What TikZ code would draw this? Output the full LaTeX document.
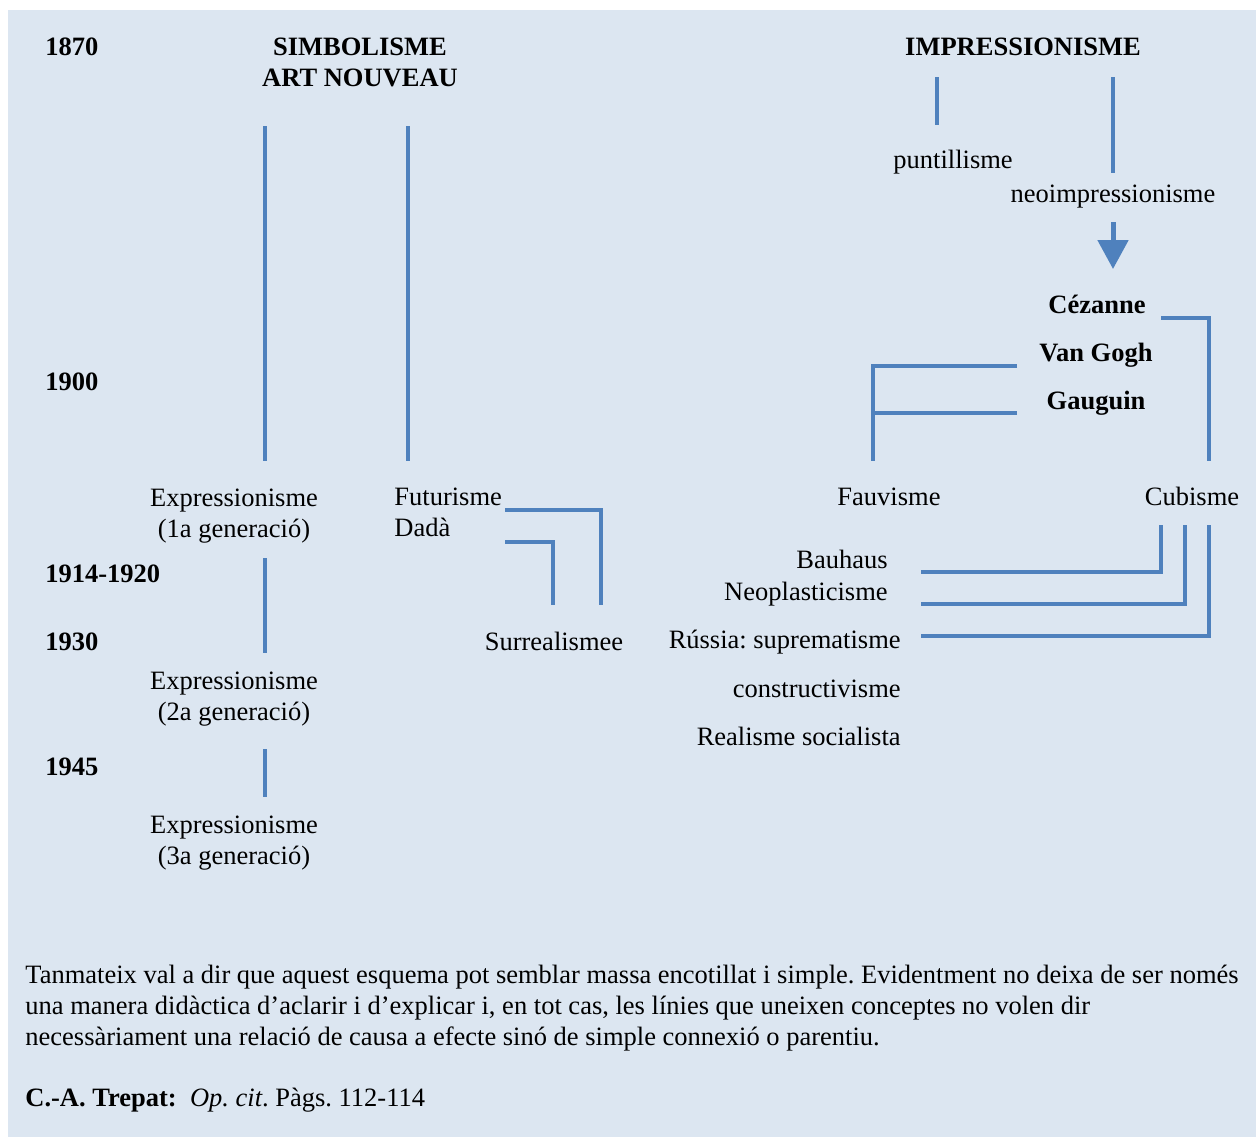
\documentclass[tikz,border=0pt]{standalone}
\usepackage{fontspec}
\setmainfont{Liberation Serif}
\usetikzlibrary{arrows.meta}
\definecolor{boxbg}{HTML}{DCE6F1}
\definecolor{linkblue}{HTML}{4F81BD}
\frenchspacing

\begin{document}
\begin{tikzpicture}[x=0.5pt,y=-0.5pt,
    txt/.style={inner sep=0pt,anchor=base,font=\fontsize{13.25}{15.5}\selectfont},
    yr/.style={txt,anchor=base west,font=\fontsize{13.25}{15.5}\selectfont\bfseries},
    head/.style={txt,font=\fontsize{13.25}{15.5}\selectfont\bfseries},
    link/.style={draw=linkblue,line width=2pt}]
  \useasboundingbox (0,0) rectangle (1256,1137);
  \fill[boxbg] (8,10) rectangle (1256,1137);

  % years
  \node[yr] (y1870) at (45,55) {1870};
  \node[yr] (y1900) at (45,390) {1900};
  \node[yr] (y1914) at (45,582) {1914-1920};
  \node[yr] (y1930) at (45,650) {1930};
  \node[yr] (y1945) at (45,775) {1945};

  % headings
  \node[head] (simb) at (360,55) {SIMBOLISME};
  \node[head] (artn) at (360,86) {ART NOUVEAU};
  \node[head] (impr) at (1023,55) {IMPRESSIONISME};

  % left column
  \node[txt] (exp1) at (234,506) {Expressionisme};
  \node[txt] (gen1) at (234,537) {(1a generació)};
  \node[txt] (exp2) at (234,689) {Expressionisme};
  \node[txt] (gen2) at (234,720) {(2a generació)};
  \node[txt] (exp3) at (234,833) {Expressionisme};
  \node[txt] (gen3) at (234,864) {(3a generació)};
  \node[txt,anchor=base west] (futu) at (394,505) {Futurisme};
  \node[txt,anchor=base west] (dada) at (394,536) {Dadà};
  \node[txt] (surr) at (554,650) {Surrealismee};

  % right column
  \node[txt,anchor=base west] (punt) at (893,168) {puntillisme};
  \node[txt] (neoi) at (1113,202) {neoimpressionisme};
  \node[head] (ceza) at (1097,313) {Cézanne};
  \node[head] (vang) at (1096,361) {Van Gogh};
  \node[head] (gaug) at (1096,409) {Gauguin};
  \node[txt] (fauv) at (889,505) {Fauvisme};
  \node[txt] (cubi) at (1192,505) {Cubisme};
  \node[txt,anchor=base east] (bauh) at (888,568) {Bauhaus};
  \node[txt,anchor=base east] (neop) at (888,600) {Neoplasticisme};
  \node[txt,anchor=base east] (russ) at (901,648) {Rússia: suprematisme};
  \node[txt,anchor=base east] (cons) at (901,697) {constructivisme};
  \node[txt,anchor=base east] (real) at (901,745) {Realisme socialista};

  % line ends
  \coordinate (simb-a) at (265,126);  \coordinate (simb-b) at (265,461);
  \coordinate (artn-a) at (408,126);  \coordinate (artn-b) at (408,461);
  \coordinate (exp1-a) at (265,558);  \coordinate (exp1-b) at (265,653);
  \coordinate (exp2-a) at (265,749);  \coordinate (exp2-b) at (265,797);
  \coordinate (futu-a) at (505,510);  \coordinate (futu-c) at (601,510);
  \coordinate (futu-b) at (601,605);
  \coordinate (dada-a) at (505,542);  \coordinate (dada-c) at (553,542);
  \coordinate (dada-b) at (553,605);
  \coordinate (punt-a) at (937,77);   \coordinate (punt-b) at (937,125);
  \coordinate (neoi-a) at (1113,77);  \coordinate (neoi-b) at (1113,173);
  \coordinate (arr-a) at (1113,222);  \coordinate (arr-b) at (1113,269);
  \coordinate (ceza-a) at (1161,318); \coordinate (ceza-c) at (1209,318);
  \coordinate (ceza-b) at (1209,461);
  \coordinate (vang-a) at (1017,366); \coordinate (vang-c) at (873,366);
  \coordinate (fauv-b) at (873,461);
  \coordinate (gaug-a) at (1017,413); \coordinate (gaug-c) at (873,413);
  \coordinate (bauh-a) at (921,572);  \coordinate (bauh-c) at (1161,572);
  \coordinate (bauh-b) at (1161,525);
  \coordinate (neop-a) at (921,604);  \coordinate (neop-c) at (1185,604);
  \coordinate (neop-b) at (1185,525);
  \coordinate (russ-a) at (921,636);  \coordinate (russ-c) at (1209,636);
  \coordinate (russ-b) at (1209,525);

  \draw[link] (simb-a) -- (simb-b);
  \draw[link] (artn-a) -- (artn-b);
  \draw[link] (exp1-a) -- (exp1-b);
  \draw[link] (exp2-a) -- (exp2-b);
  \draw[link] (futu-a) -- (futu-c) -- (futu-b);
  \draw[link] (dada-a) -- (dada-c) -- (dada-b);
  \draw[link] (punt-a) -- (punt-b);
  \draw[link] (neoi-a) -- (neoi-b);
  \draw[link,line width=2.5pt,-{Triangle[width=15pt,length=14.5pt]}] (arr-a) -- (arr-b);
  \draw[link] (ceza-a) -- (ceza-c) -- (ceza-b);
  \draw[link] (vang-a) -- (vang-c) -- (fauv-b);
  \draw[link] (gaug-a) -- (gaug-c);
  \draw[link] (bauh-a) -- (bauh-c) -- (bauh-b);
  \draw[link] (neop-a) -- (neop-c) -- (neop-b);
  \draw[link] (russ-a) -- (russ-c) -- (russ-b);

  % closing note
  \node[txt,anchor=base west,align=left] (note) at (25,1045)
    {Tanmateix val a dir que aquest esquema pot semblar massa encotillat i simple. Evidentment no deixa de ser només\\
     una manera didàctica d’aclarir i d’explicar i, en tot cas, les línies que uneixen conceptes no volen dir\\
     necessàriament una relació de causa a efecte sinó de simple connexió o parentiu.};
  \node[txt,anchor=base west] (cite) at (25,1106)
    {\textbf{C.-A. Trepat:}\ \ \textit{Op. cit}. Pàgs. 112-114};
\end{tikzpicture}
\end{document}
